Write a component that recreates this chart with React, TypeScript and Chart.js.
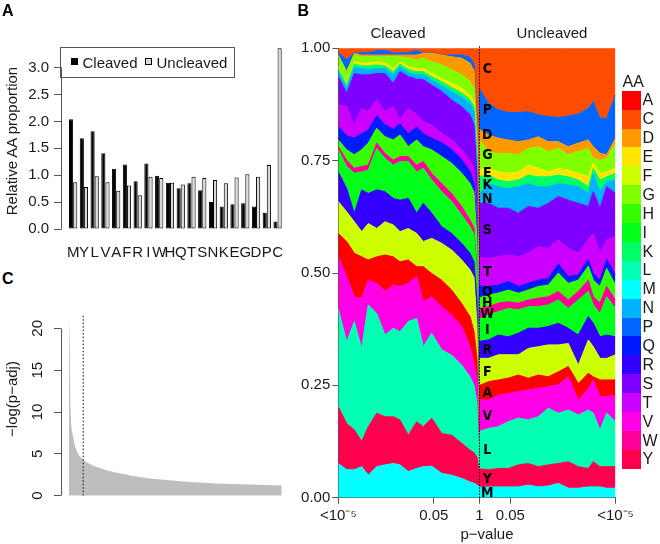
import React, { useEffect, useRef } from 'react';
import { Chart, registerables } from 'chart.js';

Chart.register(...registerables);

const FONT = '"Liberation Sans", Arial, Helvetica, sans-serif';
const NARROW = '"Liberation Sans Narrow", "DejaVu Sans Condensed", "Liberation Sans", sans-serif';
const TEXT = '#1a1a1a';
const AXIS = '#555555';

// ---------- Panel A: relative AA proportion ----------
const aaOrder = ['M', 'Y', 'L', 'V', 'A', 'F', 'R', 'I', 'W', 'H', 'Q', 'T', 'S', 'N', 'K', 'E', 'G', 'D', 'P', 'C'];
const cleavedRel = [2.04, 1.69, 1.82, 1.41, 1.12, 1.2, 0.89, 1.22, 0.99, 0.86, 0.76, 0.85, 0.72, 0.5, 0.42, 0.46, 0.48, 0.42, 0.3, 0.14];
const uncleavedRel = [0.87, 0.78, 0.98, 0.87, 0.71, 0.81, 0.63, 0.97, 0.95, 0.86, 0.83, 0.97, 0.95, 0.91, 0.85, 0.96, 1.02, 0.97, 1.19, 3.36];
const yTicksA = [0, 0.5, 1, 1.5, 2, 2.5, 3];

// ---------- Panel C: -log(p-adj) by rank ----------
const pRank = [1, 2, 3, 4, 5, 7, 9, 12, 16, 21, 26, 31, 38, 45, 55, 68, 80, 91, 115, 138, 162, 185, 208, 232, 255, 278, 300];
const pNegLog = [21.6, 18.2, 10.5, 8.6, 7.8, 7.0, 6.1, 5.3, 4.75, 4.3, 4.0, 3.75, 3.5, 3.27, 3.0, 2.75, 2.55, 2.35, 2.07, 1.87, 1.71, 1.59, 1.47, 1.39, 1.33, 1.27, 1.23];
const cutoffRank = 21;
const yTicksC = [0, 5, 10, 15, 20];

// ---------- Panel B: cumulative AA composition by p-value bin ----------
const binLeft = [-141, -132.6, -125, -117.6, -111, -102.6, -94.3, -86, -79.3, -71, -62.6, -56, -47.6, -37.6, -27.6, -17.6, -9.3, -5.3, -2.3, -0.3];
const binRight = [0.5, 9, 19, 29, 39, 49, 59, 69, 79, 89, 99, 109, 114, 120.7, 127.4, 136.2];
const xTickPos = [-141, -45.5, 0, 31, 136.2];
const xTickLabels = ['<10\u207B\u2075', '0.05', '1', '0.05', '<10\u207B\u2075'];
const yTicksB = [0, 0.25, 0.5, 0.75, 1];

// cumulative top of each layer (left bins, then right bins)
const topM = [0.076, 0.062, 0.062, 0.069, 0.05, 0.069, 0.073, 0.076, 0.073, 0.058, 0.065, 0.069, 0.07, 0.054, 0.05, 0.043, 0.035, 0.032, 0.028, 0.025,
  0.022, 0.024, 0.024, 0.024, 0.024, 0.028, 0.024, 0.026, 0.032, 0.021, 0.021, 0.024, 0.024, 0.024, 0.021, 0.021];
const topY = [0.202, 0.165, 0.151, 0.125, 0.158, 0.188, 0.18, 0.18, 0.173, 0.139, 0.169, 0.158, 0.177, 0.143, 0.139, 0.121, 0.106, 0.1, 0.09, 0.06,
  0.064, 0.062, 0.065, 0.065, 0.073, 0.076, 0.069, 0.073, 0.076, 0.08, 0.069, 0.065, 0.08, 0.069, 0.069, 0.069];
const topL = [0.42, 0.347, 0.392, 0.332, 0.429, 0.41, 0.362, 0.377, 0.369, 0.392, 0.399, 0.336, 0.366, 0.329, 0.317, 0.295, 0.269, 0.25, 0.21, 0.08,
  0.148, 0.154, 0.158, 0.169, 0.177, 0.173, 0.18, 0.199, 0.188, 0.195, 0.184, 0.195, 0.188, 0.151, 0.188, 0.169];
const topV = [0.536, 0.492, 0.447, 0.444, 0.484, 0.477, 0.459, 0.473, 0.47, 0.477, 0.492, 0.436, 0.447, 0.425, 0.406, 0.381, 0.336, 0.3, 0.26, 0.085,
  0.218, 0.217, 0.228, 0.232, 0.236, 0.24, 0.243, 0.247, 0.251, 0.269, 0.217, 0.243, 0.262, 0.225, 0.225, 0.228];
const topA = [0.588, 0.57, 0.544, 0.536, 0.529, 0.536, 0.54, 0.536, 0.525, 0.529, 0.514, 0.514, 0.499, 0.484, 0.462, 0.432, 0.403, 0.37, 0.31, 0.088,
  0.25, 0.258, 0.262, 0.266, 0.273, 0.266, 0.273, 0.269, 0.28, 0.292, 0.254, 0.277, 0.269, 0.262, 0.262, 0.262];
const topF = [0.659, 0.636, 0.614, 0.592, 0.61, 0.599, 0.614, 0.607, 0.592, 0.599, 0.588, 0.57, 0.577, 0.566, 0.551, 0.529, 0.507, 0.49, 0.38, 0.092,
  0.31, 0.31, 0.318, 0.318, 0.318, 0.332, 0.336, 0.34, 0.34, 0.343, 0.295, 0.351, 0.336, 0.31, 0.31, 0.318];
const topR = [0.725, 0.688, 0.633, 0.685, 0.677, 0.685, 0.681, 0.666, 0.662, 0.666, 0.633, 0.655, 0.633, 0.603, 0.588, 0.566, 0.544, 0.525, 0.44, 0.094,
  0.348, 0.351, 0.362, 0.358, 0.366, 0.377, 0.377, 0.381, 0.388, 0.377, 0.362, 0.403, 0.388, 0.358, 0.362, 0.358];
const topI = [0.774, 0.737, 0.722, 0.725, 0.729, 0.777, 0.755, 0.74, 0.748, 0.748, 0.725, 0.733, 0.707, 0.681, 0.659, 0.629, 0.603, 0.585, 0.485, 0.096,
  0.398, 0.407, 0.414, 0.421, 0.418, 0.425, 0.425, 0.429, 0.44, 0.421, 0.44, 0.459, 0.429, 0.41, 0.447, 0.421];
const topW = [0.781, 0.751, 0.733, 0.737, 0.74, 0.789, 0.766, 0.751, 0.759, 0.759, 0.74, 0.748, 0.722, 0.699, 0.677, 0.648, 0.618, 0.6, 0.5, 0.098,
  0.421, 0.425, 0.433, 0.436, 0.433, 0.44, 0.444, 0.447, 0.459, 0.44, 0.459, 0.484, 0.447, 0.433, 0.47, 0.44];
const topH = [0.796, 0.774, 0.763, 0.774, 0.789, 0.822, 0.803, 0.796, 0.807, 0.781, 0.796, 0.781, 0.774, 0.759, 0.744, 0.722, 0.699, 0.68, 0.575, 0.1,
  0.445, 0.451, 0.455, 0.462, 0.455, 0.462, 0.47, 0.473, 0.5, 0.477, 0.484, 0.515, 0.484, 0.47, 0.51, 0.473];
const topQ = [0.826, 0.805, 0.8, 0.81, 0.818, 0.85, 0.83, 0.82, 0.832, 0.81, 0.825, 0.81, 0.8, 0.79, 0.775, 0.752, 0.726, 0.7, 0.59, 0.102,
  0.471, 0.47, 0.473, 0.481, 0.47, 0.477, 0.484, 0.488, 0.52, 0.492, 0.496, 0.53, 0.499, 0.484, 0.53, 0.496];
const topT = [0.874, 0.87, 0.829, 0.866, 0.859, 0.885, 0.859, 0.87, 0.84, 0.866, 0.852, 0.837, 0.829, 0.811, 0.796, 0.774, 0.751, 0.73, 0.62, 0.104,
  0.535, 0.532, 0.536, 0.54, 0.536, 0.544, 0.558, 0.555, 0.573, 0.555, 0.544, 0.573, 0.588, 0.544, 0.573, 0.581];
const topS = [0.937, 0.9, 0.944, 0.941, 0.941, 0.944, 0.944, 0.922, 0.948, 0.937, 0.931, 0.93, 0.918, 0.904, 0.885, 0.87, 0.852, 0.83, 0.72, 0.106,
  0.655, 0.655, 0.644, 0.644, 0.633, 0.648, 0.644, 0.655, 0.67, 0.662, 0.655, 0.648, 0.681, 0.644, 0.692, 0.677];
const topN = [0.948, 0.911, 0.958, 0.955, 0.953, 0.955, 0.955, 0.941, 0.959, 0.946, 0.941, 0.941, 0.93, 0.916, 0.904, 0.891, 0.878, 0.86, 0.75, 0.108,
  0.677, 0.699, 0.692, 0.688, 0.692, 0.699, 0.692, 0.692, 0.699, 0.696, 0.692, 0.677, 0.722, 0.681, 0.703, 0.707];
const topK = [0.955, 0.918, 0.965, 0.961, 0.961, 0.963, 0.961, 0.948, 0.965, 0.953, 0.948, 0.948, 0.937, 0.926, 0.913, 0.901, 0.886, 0.87, 0.76, 0.11,
  0.715, 0.718, 0.707, 0.703, 0.707, 0.718, 0.714, 0.714, 0.718, 0.714, 0.707, 0.692, 0.733, 0.707, 0.714, 0.722];
const topE = [0.959, 0.922, 0.97, 0.967, 0.967, 0.97, 0.967, 0.955, 0.97, 0.959, 0.955, 0.955, 0.944, 0.933, 0.922, 0.911, 0.896, 0.88, 0.77, 0.112,
  0.731, 0.733, 0.725, 0.722, 0.725, 0.74, 0.733, 0.725, 0.733, 0.729, 0.722, 0.714, 0.744, 0.722, 0.725, 0.733];
const topG = [0.983, 0.948, 0.985, 0.981, 0.981, 0.981, 0.981, 0.981, 0.981, 0.978, 0.974, 0.978, 0.97, 0.963, 0.952, 0.941, 0.926, 0.91, 0.8, 0.115,
  0.795, 0.77, 0.766, 0.766, 0.763, 0.777, 0.781, 0.77, 0.777, 0.763, 0.77, 0.777, 0.755, 0.751, 0.755, 0.789];
const topD = [0.985, 0.948, 0.989, 0.985, 0.985, 0.985, 0.985, 0.985, 0.985, 0.985, 0.985, 0.989, 0.989, 0.985, 0.981, 0.978, 0.967, 0.95, 0.82, 0.118,
  0.819, 0.807, 0.8, 0.796, 0.792, 0.796, 0.803, 0.792, 0.792, 0.781, 0.789, 0.796, 0.781, 0.766, 0.763, 0.8];
const topP = [0.99, 0.975, 0.99, 0.99, 0.99, 0.995, 0.995, 0.99, 0.99, 0.99, 0.995, 0.99, 0.99, 0.985, 0.985, 0.985, 0.98, 0.965, 0.84, 0.12,
  0.909, 0.878, 0.863, 0.857, 0.857, 0.859, 0.852, 0.848, 0.846, 0.849, 0.854, 0.866, 0.881, 0.844, 0.844, 0.896];
const topC = [1, 1, 1, 1, 1, 1, 1, 1, 1, 1, 1, 1, 1, 1, 1, 1, 1, 1, 1, 1,
  1, 1, 1, 1, 1, 1, 1, 1, 1, 1, 1, 1, 1, 1, 1, 1];

const layerTops = [topM, topY, topL, topV, topA, topF, topR, topI, topW, topH, topQ, topT, topS, topN, topK, topE, topG, topD, topP, topC];

const legendOrder = ['A', 'C', 'D', 'E', 'F', 'G', 'H', 'I', 'K', 'L', 'M', 'N', 'P', 'Q', 'R', 'S', 'T', 'V', 'W', 'Y'];
const legendColors = ['#FF0000', '#FF4D00', '#FF9900', '#FFE500', '#CCFF00', '#80FF00', '#33FF00', '#00FF19', '#00FF66', '#00FFB2',
  '#00FFFF', '#00B3FF', '#0066FF', '#001AFF', '#3300FF', '#7F00FF', '#CC00FF', '#FF00E6', '#FF0099', '#FF004D'];
const colorOf = (aa: string) => legendColors[legendOrder.indexOf(aa)];

// ---------- plugins ----------
const alignPx = (p: number) => Math.round(p - 0.5) + 0.5;

const rStyleYAxis = {
  id: 'rStyleYAxis',
  afterDraw(chart: any) {
    const y = chart.scales.y;
    const t = y.ticks;
    const ctx = chart.ctx;
    const x = alignPx(chart.chartArea.left);
    ctx.save();
    ctx.strokeStyle = AXIS;
    ctx.lineWidth = 1;
    ctx.beginPath();
    ctx.moveTo(x, alignPx(y.getPixelForValue(t[0].value)));
    ctx.lineTo(x, alignPx(y.getPixelForValue(t[t.length - 1].value)));
    ctx.stroke();
    ctx.restore();
  },
};

const rotatedYLabels = {
  id: 'rotatedYLabels',
  afterDraw(chart: any) {
    const y = chart.scales.y;
    const ctx = chart.ctx;
    const cx = chart.chartArea.left - 23.5;
    ctx.save();
    ctx.font = `15px ${FONT}`;
    ctx.fillStyle = TEXT;
    ctx.textAlign = 'center';
    ctx.textBaseline = 'middle';
    yTicksC.forEach((v) => {
      ctx.save();
      ctx.translate(cx, y.getPixelForValue(v));
      ctx.rotate(-Math.PI / 2);
      ctx.fillText(String(v), 0, 0);
      ctx.restore();
    });
    ctx.restore();
  },
};

const centerMarks = {
  id: 'centerMarks',
  afterDatasetsDraw(chart: any) {
    const { ctx, chartArea } = chart;
    const xs = chart.scales.x;
    const ys = chart.scales.y;
    const x0 = xs.getPixelForValue(0);
    ctx.save();
    ctx.strokeStyle = '#000';
    ctx.lineWidth = 1;
    ctx.setLineDash([1.5, 1.5]);
    ctx.beginPath();
    ctx.moveTo(alignPx(x0), chartArea.top - 2);
    ctx.lineTo(alignPx(x0), chartArea.bottom);
    ctx.stroke();
    ctx.setLineDash([]);
    ctx.font = `bold 14px ${NARROW}`;
    ctx.fillStyle = '#000';
    ctx.textAlign = 'center';
    ctx.textBaseline = 'middle';
    const j = binLeft.length;
    aaOrder.forEach((aa, k) => {
      const lo = k === 0 ? 0 : layerTops[k - 1][j];
      const hi = layerTops[k][j];
      ctx.fillText(aa, x0 + 8, ys.getPixelForValue((lo + hi) / 2) + 0.5);
    });
    ctx.restore();
  },
};

const tickFont = { family: FONT, size: 15 };

export default function App() {
  const refA = useRef<HTMLCanvasElement>(null);
  const refB = useRef<HTMLCanvasElement>(null);
  const refC = useRef<HTMLCanvasElement>(null);

  useEffect(() => {
    const charts: Chart[] = [];

    // Panel A
    charts.push(
      new Chart(refA.current as HTMLCanvasElement, {
        type: 'bar',
        data: {
          datasets: [
            {
              label: 'Cleaved',
              data: aaOrder.map((_, i) => ({ x: i + 1, y: cleavedRel[i] })),
              backgroundColor: '#000000',
              borderColor: '#000000',
              borderWidth: 1,
              borderSkipped: false,
              barPercentage: 1,
              categoryPercentage: 0.77,
            },
            {
              label: 'Uncleaved',
              data: aaOrder.map((_, i) => ({ x: i + 1, y: uncleavedRel[i] })),
              backgroundColor: '#d9d9d9',
              borderColor: '#000000',
              borderWidth: 1,
              borderSkipped: false,
              barPercentage: 1,
              categoryPercentage: 0.77,
            },
          ],
        } as any,
        options: {
          animation: false,
          responsive: false,
          maintainAspectRatio: false,
          layout: { padding: { top: 46.2, right: 14, left: 0, bottom: 0 } },
          plugins: { legend: { display: false }, tooltip: { enabled: false } },
          scales: {
            x: {
              type: 'linear',
              min: -0.129,
              max: 20.785,
              offset: false,
              grid: { display: false, drawTicks: false },
              border: { display: false },
              afterBuildTicks: (s: any) => {
                s.ticks = aaOrder.map((_, i) => ({ value: i + 1 }));
              },
              ticks: {
                autoSkip: false,
                maxRotation: 0,
                minRotation: 0,
                padding: 15,
                font: tickFont,
                color: TEXT,
                callback: (_v: any, i: number) => aaOrder[i],
              },
              afterFit: (s: any) => {
                s.height = 41;
              },
            },
            y: {
              min: 0,
              max: 3.4,
              afterBuildTicks: (s: any) => {
                s.ticks = yTicksA.map((v) => ({ value: v }));
              },
              ticks: { padding: 5, font: tickFont, color: TEXT, callback: (v: any) => Number(v).toFixed(1) },
              grid: { drawOnChartArea: false, drawTicks: true, tickLength: 7, tickColor: AXIS, color: AXIS },
              border: { display: false },
              afterFit: (s: any) => {
                s.width = 61;
              },
            },
          },
        } as any,
        plugins: [rStyleYAxis],
      })
    );

    // Panel C
    charts.push(
      new Chart(refC.current as HTMLCanvasElement, {
        type: 'line',
        data: {
          datasets: [
            {
              data: [
                { x: cutoffRank, y: 0 },
                { x: cutoffRank, y: Math.max(...pNegLog) },
              ],
              borderColor: '#000000',
              borderWidth: 1,
              borderDash: [1.5, 2],
              pointRadius: 0,
              fill: false,
            },
            {
              data: pRank.map((r, i) => ({ x: r, y: pNegLog[i] })),
              backgroundColor: '#bebebe',
              borderColor: '#bebebe',
              borderWidth: 0,
              pointRadius: 0,
              tension: 0,
              fill: 'origin',
            },
          ],
        } as any,
        options: {
          animation: false,
          responsive: false,
          maintainAspectRatio: false,
          layout: { padding: { top: 21.6, right: 14, left: 0, bottom: 48.3 } },
          plugins: { legend: { display: false }, tooltip: { enabled: false } },
          scales: {
            x: { type: 'linear', min: -10.2, max: 306, display: false },
            y: {
              min: 0,
              max: 22,
              afterBuildTicks: (s: any) => {
                s.ticks = yTicksC.map((v) => ({ value: v }));
              },
              ticks: { display: false },
              grid: { drawOnChartArea: false, drawTicks: true, tickLength: 7, tickColor: AXIS, color: AXIS },
              border: { display: false },
              afterFit: (s: any) => {
                s.width = 61;
              },
            },
          },
        } as any,
        plugins: [rStyleYAxis, rotatedYLabels],
      })
    );

    // Panel B
    const bins = [...binLeft, ...binRight];
    charts.push(
      new Chart(refB.current as HTMLCanvasElement, {
        type: 'line',
        data: {
          datasets: aaOrder.map((aa, k) => ({
            label: aa,
            data: bins.map((x, i) => ({ x, y: layerTops[k][i] })),
            backgroundColor: colorOf(aa),
            borderColor: colorOf(aa),
            borderWidth: 1,
            borderJoinStyle: 'round',
            pointRadius: 0,
            tension: 0,
            fill: k === 0 ? 'origin' : '-1',
          })),
        } as any,
        options: {
          animation: false,
          responsive: false,
          maintainAspectRatio: false,
          layout: { padding: { top: 48.3, right: 44.5, left: 0, bottom: 0 } },
          plugins: { legend: { display: false }, tooltip: { enabled: false } },
          scales: {
            x: {
              type: 'linear',
              min: -141,
              max: 136.2,
              afterBuildTicks: (s: any) => {
                s.ticks = xTickPos.map((v) => ({ value: v }));
              },
              ticks: {
                autoSkip: false,
                maxRotation: 0,
                minRotation: 0,
                padding: 3,
                font: tickFont,
                color: TEXT,
                callback: (_v: any, i: number) => xTickLabels[i],
              },
              grid: { drawOnChartArea: false, drawTicks: true, tickLength: 6, tickColor: AXIS, color: AXIS },
              border: { display: true, color: AXIS, width: 1 },
              afterFit: (s: any) => {
                s.height = 46.3;
              },
            },
            y: {
              min: 0,
              max: 1,
              afterBuildTicks: (s: any) => {
                s.ticks = yTicksB.map((v) => ({ value: v }));
              },
              ticks: { padding: 2, font: tickFont, color: TEXT, callback: (v: any) => Number(v).toFixed(2) },
              grid: { drawOnChartArea: false, drawTicks: true, tickLength: 6, tickColor: AXIS, color: AXIS },
              border: { display: true, color: AXIS, width: 1 },
              afterFit: (s: any) => {
                s.width = 48.3;
              },
            },
          },
        } as any,
        plugins: [centerMarks],
      })
    );

    return () => charts.forEach((c) => c.destroy());
  }, []);

  const abs = (o: React.CSSProperties): React.CSSProperties => ({ position: 'absolute', ...o });
  const txt = (size: number, cy: number): React.CSSProperties => ({
    fontSize: size,
    lineHeight: `${size}px`,
    top: cy - 0.488 * size,
    whiteSpace: 'nowrap',
  });

  return (
    <div style={abs({ left: 0, top: 0, width: 660, height: 544, background: '#fff', fontFamily: FONT, color: TEXT, overflow: 'hidden' })}>
      <canvas ref={refA} width={300} height={270} style={abs({ left: 0, top: 0, width: 300, height: 270 })} />
      <canvas ref={refC} width={300} height={254} style={abs({ left: 0, top: 290, width: 300, height: 254 })} />
      <canvas ref={refB} width={370} height={544} style={abs({ left: 290, top: 0, width: 370, height: 544 })} />

      {/* panel letters */}
      <div style={abs({ left: 2, ...txt(16, 10.7), fontWeight: 'bold', color: '#000' })}>A</div>
      <div style={abs({ left: 297.5, ...txt(16, 10.7), fontWeight: 'bold', color: '#000' })}>B</div>
      <div style={abs({ left: 2, ...txt(16, 279), fontWeight: 'bold', color: '#000' })}>C</div>

      {/* panel A legend */}
      <div style={abs({ left: 60, top: 47, width: 175, height: 31, border: `1px solid ${AXIS}`, boxSizing: 'border-box' })} />
      <div style={abs({ left: 71, top: 58.3, width: 6.5, height: 6.7, background: '#000' })} />
      <div style={abs({ left: 82.5, ...txt(15, 62) })}>Cleaved</div>
      <div style={abs({ left: 145, top: 58.3, width: 6.5, height: 6.7, background: '#d9d9d9', border: '1px solid #000', boxSizing: 'border-box' })} />
      <div style={abs({ left: 156.5, ...txt(15, 62) })}>Uncleaved</div>

      {/* axis titles, rotated */}
      <div style={abs({ left: 12 - 100, top: 140.8 - 9, width: 200, height: 18, lineHeight: '18px', fontSize: 15, textAlign: 'center', transform: 'rotate(-90deg)', whiteSpace: 'nowrap' })}>
        Relative AA proportion
      </div>
      <div style={abs({ left: 12 - 100, top: 399 - 9, width: 200, height: 18, lineHeight: '18px', fontSize: 15, textAlign: 'center', transform: 'rotate(-90deg)', whiteSpace: 'nowrap' })}>
        {'\u2212log(p\u2212adj)'}
      </div>

      {/* panel B titles */}
      <div style={abs({ left: 398 - 100, width: 200, textAlign: 'center', ...txt(15, 32) })}>Cleaved</div>
      <div style={abs({ left: 552 - 100, width: 200, textAlign: 'center', ...txt(15, 32) })}>Uncleaved</div>
      <div style={abs({ left: 487 - 100, width: 200, textAlign: 'center', ...txt(15, 533) })}>{'p\u2212value'}</div>

      {/* AA legend */}
      <div style={abs({ left: 622.5, ...txt(16, 81.5) })}>AA</div>
      {legendOrder.map((aa, i) => (
        <React.Fragment key={aa}>
          <div style={abs({ left: 621.7, top: 90.7 + i * 18.9, width: 19, height: 19.3, background: legendColors[i] })} />
          <div style={abs({ left: 642.5, ...txt(16, 90.7 + i * 18.9 + 9.45) })}>{aa}</div>
        </React.Fragment>
      ))}
    </div>
  );
}
